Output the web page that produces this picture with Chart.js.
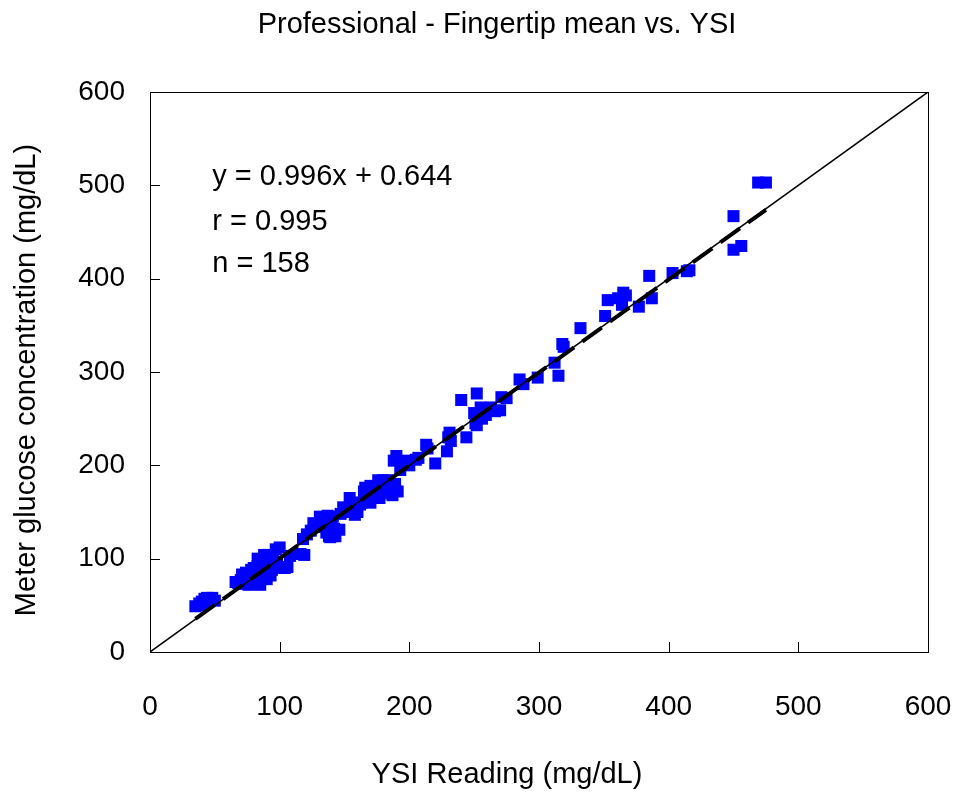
<!DOCTYPE html>
<html>
<head>
<meta charset="utf-8">
<script src="https://cdn.jsdelivr.net/npm/chart.js@4/dist/chart.umd.min.js"></script>
<style>
  html, body { margin: 0; padding: 0; background: #fff; }
  #wrap { width: 956px; height: 796px; }
</style>
</head>
<body>
<div id="wrap"><canvas id="glucoseChart" width="956" height="796"></canvas></div>
<script>
// YSI reference reading (mg/dL) and fingertip meter mean (mg/dL)
const ysiValues = [
  35, 38, 39, 40, 42, 43, 44, 46, 48, 50,
  66, 68, 70, 72, 73, 74, 75, 76, 77, 78,
  79, 80, 80, 81, 82, 83, 84, 85, 85, 86,
  87, 88, 88, 89, 90, 90, 91, 92, 93, 94,
  95, 96, 98, 100, 101, 104, 106, 83, 76, 93,
  116, 119, 121, 124, 127, 129, 131, 132, 133, 135,
  136, 137, 138, 139, 140, 141, 142, 143, 146, 139,
  149, 152, 154, 156, 158, 160, 162, 165, 166, 168,
  170, 172, 174, 176, 177, 178, 180, 182, 183, 184,
  186, 187, 188, 190, 191, 193, 196, 197, 200, 205,
  207, 213, 214, 220, 229, 230, 231, 232, 240, 244,
  250, 251, 252, 252, 255, 259, 261, 263, 266, 270,
  271, 275, 285, 288, 299, 312, 315, 318, 319, 332,
  351, 353, 361, 364, 365, 367, 377, 385, 387, 403,
  414, 416, 450, 450, 456, 469, 475, 163, 147, 108,
  71, 97, 126, 189, 256, 170, 118, 153
];
const meterValues = [
  49, 52, 50, 54, 57, 53, 58, 56, 58, 55,
  75, 74, 77, 80, 73, 85, 78, 72, 84, 88,
  76, 90, 74, 82, 86, 92, 78, 84, 72, 95,
  88, 80, 104, 100, 92, 78, 85, 104, 97, 88,
  103, 92, 96, 112, 90, 90, 91, 100, 82, 82,
  105, 104, 126, 130, 135, 134, 145, 138, 140, 142,
  128, 146, 124, 141, 133, 145, 132, 124, 131, 123,
  155, 152, 165, 160, 147, 150, 158, 172, 176, 175,
  160, 168, 172, 184, 165, 178, 184, 170, 184, 175,
  174, 168, 205, 210, 172, 195, 203, 205, 200, 206,
  208, 222, 218, 202, 215, 230, 235, 226, 270, 230,
  256, 245, 243, 277, 262, 254, 261, 262, 258, 259,
  273, 272, 292, 287, 294, 310, 296, 330, 327, 347,
  360, 377, 379, 372, 385, 382, 370, 403, 379, 406,
  408, 409, 467, 431, 435, 503, 503, 160, 148, 103,
  83, 110, 138, 180, 250, 178, 121, 150
];

// axis ticks
const axisTicks = [0, 100, 200, 300, 400, 500, 600];

// least squares fit printed on the chart
const fitSlope = 0.996;
const fitIntercept = 0.644;
const fitR = 0.995;

const fitStart = Math.min(...ysiValues);
const fitEnd = Math.max(...ysiValues);

const textFont = '"Liberation Sans", Arial, sans-serif';

// frame, inward tick marks, axis titles and the fit statistics
const framePlugin = {
  id: 'framePlugin',
  afterDraw(chart) {
    const ctx = chart.ctx;
    const area = chart.chartArea;
    const xScale = chart.scales.x;
    const yScale = chart.scales.y;

    ctx.save();
    ctx.strokeStyle = '#000';
    ctx.lineWidth = 1;
    ctx.strokeRect(Math.round(area.left) + 0.5, Math.round(area.top) + 0.5,
      Math.round(area.right - area.left), Math.round(area.bottom - area.top));

    ctx.beginPath();
    axisTicks.forEach((t) => {
      const px = Math.round(xScale.getPixelForValue(t)) + 0.5;
      ctx.moveTo(px, area.bottom);
      ctx.lineTo(px, area.bottom - 10);
      const py = Math.round(yScale.getPixelForValue(t)) + 0.5;
      ctx.moveTo(area.left, py);
      ctx.lineTo(area.left + 10, py);
    });
    ctx.stroke();

    ctx.fillStyle = '#000';
    ctx.font = '29px ' + textFont;
    ctx.textBaseline = 'middle';
    ctx.textAlign = 'left';
    const tx = xScale.getPixelForValue(48);
    ctx.fillText('y = ' + fitSlope + 'x + ' + fitIntercept, tx, yScale.getPixelForValue(509));
    ctx.fillText('r = ' + fitR, tx, yScale.getPixelForValue(461));
    ctx.fillText('n = ' + ysiValues.length, tx, yScale.getPixelForValue(416));

    // titles
    ctx.textAlign = 'center';
    ctx.fillText('Professional - Fingertip mean vs. YSI', 497, 25);
    ctx.fillText('YSI Reading (mg/dL)', 507, 775);
    ctx.translate(27, 380);
    ctx.rotate(-Math.PI / 2);
    ctx.fillText('Meter glucose concentration (mg/dL)', 0, 0);
    ctx.restore();
  }
};

const points = ysiValues.map((x, i) => ({ x: x, y: meterValues[i] }));

const ctx = document.getElementById('glucoseChart').getContext('2d');
new Chart(ctx, {
  type: 'scatter',
  data: {
    datasets: [
      {
        label: 'Line of identity',
        type: 'line',
        data: [{ x: 0, y: 0 }, { x: 600, y: 600 }],
        borderColor: '#000',
        borderWidth: 1.5,
        pointRadius: 0,
        fill: false,
        order: 1
      },
      {
        label: 'Fit',
        type: 'line',
        data: [
          { x: fitStart, y: fitSlope * fitStart + fitIntercept },
          { x: fitEnd, y: fitSlope * fitEnd + fitIntercept }
        ],
        borderColor: '#000',
        borderWidth: 4,
        borderDash: [24, 10],
        pointRadius: 0,
        fill: false,
        order: 0
      },
      {
        label: 'Fingertip mean',
        data: points,
        pointStyle: 'rect',
        pointRadius: 8.5,
        pointHoverRadius: 8.5,
        backgroundColor: '#0000FF',
        borderColor: '#0000FF',
        borderWidth: 0,
        order: 2
      }
    ]
  },
  options: {
    responsive: false,
    animation: false,
    layout: {
      padding: { top: 92, right: 28, bottom: 0, left: 0 }
    },
    plugins: {
      legend: { display: false },
      tooltip: { enabled: false }
    },
    scales: {
      x: {
        type: 'linear',
        min: 0,
        max: 600,
        afterFit: (scale) => {
          scale.height = 144;
          scale.paddingLeft = 0;
          scale.paddingRight = 0;
        },
        afterBuildTicks: (scale) => { scale.ticks = axisTicks.map((v) => ({ value: v })); },
        grid: { display: false, drawTicks: false },
        border: { display: false },
        ticks: {
          color: '#000',
          padding: 38,
          maxRotation: 0,
          font: { family: textFont, size: 28 }
        }
      },
      y: {
        type: 'linear',
        min: 0,
        max: 600,
        afterFit: (scale) => {
          scale.width = 150;
          scale.paddingTop = 0;
          scale.paddingBottom = 0;
        },
        afterBuildTicks: (scale) => { scale.ticks = axisTicks.map((v) => ({ value: v })); },
        grid: { display: false, drawTicks: false },
        border: { display: false },
        ticks: {
          color: '#000',
          padding: 25,
          font: { family: textFont, size: 28 }
        }
      }
    }
  },
  plugins: [framePlugin]
});
</script>
</body>
</html>
